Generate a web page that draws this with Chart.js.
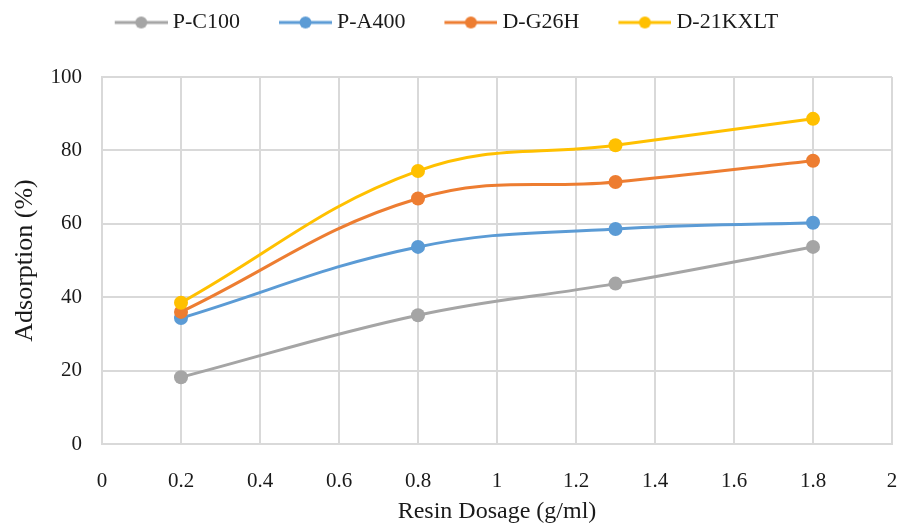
<!DOCTYPE html>
<html>
<head>
<meta charset="utf-8">
<script src="https://cdn.jsdelivr.net/npm/chart.js@4"></script>
<style>
  html, body { margin: 0; padding: 0; background: #fff; }
  #wrap { width: 902px; height: 523px; }
</style>
</head>
<body>
<div id="wrap"><canvas id="adsChart"></canvas></div>
<script>
// ---- data ----
const dosages = [0.2, 0.8, 1.3, 1.8];
const seriesNames = ["P-C100", "P-A400", "D-G26H", "D-21KXLT"];
const pc100 = [18.2, 35.1, 43.7, 53.7];
const pa400 = [34.3, 53.7, 58.6, 60.3];
const dg26h = [36.0, 66.9, 71.4, 77.2];
const d21kxlt = [38.5, 74.4, 81.4, 88.6];
const xTicks = [0, 0.2, 0.4, 0.6, 0.8, 1, 1.2, 1.4, 1.6, 1.8, 2];
const xTickLabels = ["0", "0.2", "0.4", "0.6", "0.8", "1", "1.2", "1.4", "1.6", "1.8", "2"];
const yTicks = [0, 20, 40, 60, 80, 100];
const yTickLabels = ["0", "20", "40", "60", "80", "100"];

const colors = ["#A5A5A5", "#5B9BD5", "#ED7D31", "#FFC000"];
const FONT = "'Liberation Serif', 'Times New Roman', serif";

// legend marker: short line with a dot, like the office style
function legendIcon(color) {
  const c = document.createElement("canvas");
  c.width = 60; c.height = 14;
  const g = c.getContext("2d");
  g.strokeStyle = color;
  g.lineWidth = 3;
  g.beginPath(); g.moveTo(7, 7); g.lineTo(60, 7); g.stroke();
  g.fillStyle = color;
  g.beginPath(); g.arc(33.5, 7, 6, 0, Math.PI * 2); g.fill();
  return c;
}
const icons = colors.map(legendIcon);

const allValues = [pc100, pa400, dg26h, d21kxlt];
const datasets = allValues.map((vals, i) => ({
  label: seriesNames[i],
  data: dosages.map((x, j) => ({ x: x, y: vals[j] })),
  borderColor: colors[i],
  backgroundColor: colors[i],
  borderWidth: 3,
  pointRadius: 7,
  pointHoverRadius: 7,
  pointBorderWidth: 0,
  tension: 0.4,
  order: allValues.length - i,
}));

// fixed legend height so the plot starts where the reference does
const legendBox = {
  id: "legendBox",
  beforeInit(chart) {
    const fit = chart.legend.fit;
    chart.legend.fit = function () {
      fit.call(this);
      this.height = 77 + 26.5;
    };
  },
};

new Chart(document.getElementById("adsChart"), {
  type: "line",
  data: { datasets },
  plugins: [legendBox],
  options: {
    responsive: true,
    maintainAspectRatio: false,
    animation: false,
    layout: { padding: { top: -26.5, right: 10, bottom: 0, left: 0 } },
    plugins: {
      tooltip: { enabled: false },
      legend: {
        position: "top",
        labels: {
          usePointStyle: true,
          pointStyleWidth: 48,
          padding: 38,
          color: "#1a1a1a",
          font: { family: FONT, size: 22 },
          sort: (a, b) => a.datasetIndex - b.datasetIndex,
          generateLabels(chart) {
            const items = Chart.defaults.plugins.legend.labels.generateLabels(chart);
            items.forEach((it) => (it.pointStyle = icons[it.datasetIndex]));
            return items;
          },
        },
      },
    },
    scales: {
      x: {
        type: "linear",
        min: 0,
        max: 2,
        afterFit: (s) => { s.height = 79; s.paddingLeft = 0; s.paddingRight = 5; },
        afterBuildTicks: (s) => { s.ticks = xTicks.map((v) => ({ value: v })); },
        ticks: {
          padding: 25,
          color: "#1a1a1a",
          font: { family: FONT, size: 21 },
          maxRotation: 0,
          autoSkip: false,
          callback: (v, i) => xTickLabels[i],
        },
        grid: { color: "#d9d9d9", lineWidth: 2, drawTicks: false },
        border: { color: "#d9d9d9", width: 2 },
        title: {
          display: true,
          text: "Resin Dosage (g/ml)",
          color: "#1a1a1a",
          font: { family: FONT, size: 24, lineHeight: 0.9 },
          padding: { top: 0, bottom: 0 },
        },
      },
      y: {
        min: 0,
        max: 100,
        afterFit: (s) => { s.width = 102; },
        afterBuildTicks: (s) => { s.ticks = yTicks.map((v) => ({ value: v })); },
        ticks: {
          padding: 20,
          color: "#1a1a1a",
          font: { family: FONT, size: 21 },
          callback: (v, i) => yTickLabels[i],
        },
        grid: { color: "#d9d9d9", lineWidth: 2, drawTicks: false },
        border: { color: "#d9d9d9", width: 2 },
        title: {
          display: true,
          text: "Adsorption (%)",
          color: "#1a1a1a",
          font: { family: FONT, size: 26, lineHeight: 1 },
          padding: { top: 12, bottom: 0 },
        },
      },
    },
  },
});
</script>
</body>
</html>
